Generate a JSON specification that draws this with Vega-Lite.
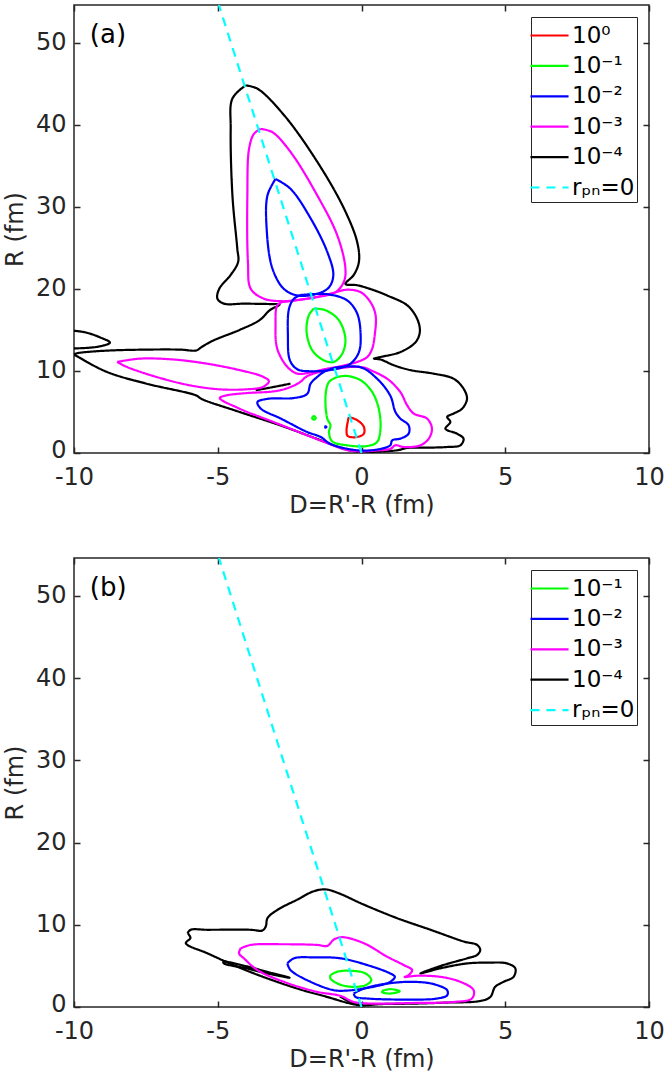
{
  "$schema": "https://vega.github.io/schema/vega-lite/v6.json",
  "padding": {"left": 2, "top": 3, "right": 5, "bottom": 5},
  "config": {
    "font": "DejaVu Sans",
    "view": {"stroke": "#262626", "strokeWidth": 1.5},
    "concat": {"spacing": 38},
    "axis": {"domain": false, "grid": false, "labelFlush": false, "tickColor": "#262626", "tickSize": -6, "tickWidth": 1.5, "labelColor": "#262626", "labelFont": "DejaVu Sans", "labelFontSize": 24, "titleFont": "DejaVu Sans", "titleFontSize": 24, "titleColor": "#262626", "titleFontWeight": "normal", "labelExpr": "replace(datum.label, '−', '-')"},
    "legend": {"orient": "top-right", "offset": 12, "padding": 2, "strokeColor": "#262626", "fillColor": "#ffffff", "labelFontSize": 23, "labelFont": "DejaVu Sans", "labelColor": "#000000", "symbolType": "M-1.27,0H1.27", "symbolSize": 900, "symbolStrokeWidth": 2.2, "rowPadding": 1.4, "labelOffset": 6, "cornerRadius": 0}
  },
  "datasets": {
    "a": [
      {"lv":"10⁻⁴","id":"k1","i":0,"D":-4.03,"R":44.8},{"lv":"10⁻⁴","id":"k1","i":1,"D":-3.62,"R":44.4},{"lv":"10⁻⁴","id":"k1","i":2,"D":-2.7,"R":41.2},{"lv":"10⁻⁴","id":"k1","i":3,"D":-1.54,"R":35.5},{"lv":"10⁻⁴","id":"k1","i":4,"D":-0.61,"R":29.8},{"lv":"10⁻⁴","id":"k1","i":5,"D":-0.15,"R":25.7},{"lv":"10⁻⁴","id":"k1","i":6,"D":-0.09,"R":23.3},{"lv":"10⁻⁴","id":"k1","i":7,"D":-0.27,"R":21.7},{"lv":"10⁻⁴","id":"k1","i":8,"D":-0.56,"R":20.6},{"lv":"10⁻⁴","id":"k1","i":9,"D":-0.15,"R":20.45},{"lv":"10⁻⁴","id":"k1","i":10,"D":0.54,"R":19.7},{"lv":"10⁻⁴","id":"k1","i":11,"D":0.89,"R":19.2},{"lv":"10⁻⁴","id":"k1","i":12,"D":1.59,"R":18.0},{"lv":"10⁻⁴","id":"k1","i":13,"D":1.93,"R":16.4},{"lv":"10⁻⁴","id":"k1","i":14,"D":2.03,"R":14.8},{"lv":"10⁻⁴","id":"k1","i":15,"D":1.88,"R":13.5},{"lv":"10⁻⁴","id":"k1","i":16,"D":1.35,"R":12.3},{"lv":"10⁻⁴","id":"k1","i":17,"D":0.66,"R":11.7},{"lv":"10⁻⁴","id":"k1","i":18,"D":0.43,"R":11.5},{"lv":"10⁻⁴","id":"k1","i":19,"D":0.66,"R":11.4},{"lv":"10⁻⁴","id":"k1","i":20,"D":1.12,"R":10.7},{"lv":"10⁻⁴","id":"k1","i":21,"D":1.7,"R":10.1},{"lv":"10⁻⁴","id":"k1","i":22,"D":2.51,"R":9.67},{"lv":"10⁻⁴","id":"k1","i":23,"D":3.2,"R":9.06},{"lv":"10⁻⁴","id":"k1","i":24,"D":3.55,"R":7.84},{"lv":"10⁻⁴","id":"k1","i":25,"D":3.67,"R":6.6},{"lv":"10⁻⁴","id":"k1","i":26,"D":3.5,"R":5.4},{"lv":"10⁻⁴","id":"k1","i":27,"D":3.2,"R":4.8},{"lv":"10⁻⁴","id":"k1","i":28,"D":2.98,"R":4.4},{"lv":"10⁻⁴","id":"k1","i":29,"D":3.09,"R":3.78},{"lv":"10⁻⁴","id":"k1","i":30,"D":2.92,"R":2.96},{"lv":"10⁻⁴","id":"k1","i":31,"D":3.32,"R":2.36},{"lv":"10⁻⁴","id":"k1","i":32,"D":3.55,"R":1.75},{"lv":"10⁻⁴","id":"k1","i":33,"D":3.44,"R":0.94},{"lv":"10⁻⁴","id":"k1","i":34,"D":2.98,"R":0.73},{"lv":"10⁻⁴","id":"k1","i":35,"D":2.28,"R":0.65},{"lv":"10⁻⁴","id":"k1","i":36,"D":1.59,"R":0.61},{"lv":"10⁻⁴","id":"k1","i":37,"D":1.24,"R":0.33},{"lv":"10⁻⁴","id":"k1","i":38,"D":0.48,"R":0.15},{"lv":"10⁻⁴","id":"k1","i":39,"D":-0.03,"R":0.1},{"lv":"10⁻⁴","id":"k1","i":40,"D":-0.6,"R":0.5},{"lv":"10⁻⁴","id":"k1","i":41,"D":-1.57,"R":1.75},{"lv":"10⁻⁴","id":"k1","i":42,"D":-2.85,"R":3.4},{"lv":"10⁻⁴","id":"k1","i":43,"D":-4.24,"R":5.0},{"lv":"10⁻⁴","id":"k1","i":44,"D":-5.57,"R":6.6},{"lv":"10⁻⁴","id":"k1","i":45,"D":-5.74,"R":7.0},{"lv":"10⁻⁴","id":"k1","i":46,"D":-7.48,"R":8.45},{"lv":"10⁻⁴","id":"k1","i":47,"D":-8.87,"R":9.9},{"lv":"10⁻⁴","id":"k1","i":48,"D":-9.9,"R":11.8},{"lv":"10⁻⁴","id":"k1","i":49,"D":-10,"R":12.0},{"lv":"10⁻⁴","id":"k1","i":50,"D":-9.9,"R":12.15},{"lv":"10⁻⁴","id":"k1","i":51,"D":-9.0,"R":12.45},{"lv":"10⁻⁴","id":"k1","i":52,"D":-7.5,"R":12.6},{"lv":"10⁻⁴","id":"k1","i":53,"D":-6.3,"R":12.6},{"lv":"10⁻⁴","id":"k1","i":54,"D":-5.74,"R":12.5},{"lv":"10⁻⁴","id":"k1","i":55,"D":-5.57,"R":12.9},{"lv":"10⁻⁴","id":"k1","i":56,"D":-5.16,"R":13.7},{"lv":"10⁻⁴","id":"k1","i":57,"D":-4.24,"R":15.0},{"lv":"10⁻⁴","id":"k1","i":58,"D":-3.54,"R":16.2},{"lv":"10⁻⁴","id":"k1","i":59,"D":-3.19,"R":17.4},{"lv":"10⁻⁴","id":"k1","i":60,"D":-2.85,"R":18.1},{"lv":"10⁻⁴","id":"k1","i":61,"D":-3.16,"R":18.15},{"lv":"10⁻⁴","id":"k1","i":62,"D":-4.09,"R":18.2},{"lv":"10⁻⁴","id":"k1","i":63,"D":-4.78,"R":18.2},{"lv":"10⁻⁴","id":"k1","i":64,"D":-5.01,"R":18.8},{"lv":"10⁻⁴","id":"k1","i":65,"D":-4.95,"R":20.0},{"lv":"10⁻⁴","id":"k1","i":66,"D":-4.55,"R":21.7},{"lv":"10⁻⁴","id":"k1","i":67,"D":-4.29,"R":23.3},{"lv":"10⁻⁴","id":"k1","i":68,"D":-4.32,"R":24.9},{"lv":"10⁻⁴","id":"k1","i":69,"D":-4.49,"R":31.4},{"lv":"10⁻⁴","id":"k1","i":70,"D":-4.55,"R":39.5},{"lv":"10⁻⁴","id":"k1","i":71,"D":-4.49,"R":43.2},{"lv":"10⁻⁴","id":"k1","i":72,"D":-4.03,"R":44.8},
      {"lv":"10⁻⁴","id":"k2","i":0,"D":-10,"R":14.9},{"lv":"10⁻⁴","id":"k2","i":1,"D":-9.6,"R":14.7},{"lv":"10⁻⁴","id":"k2","i":2,"D":-9.1,"R":14.1},{"lv":"10⁻⁴","id":"k2","i":3,"D":-8.75,"R":13.45},{"lv":"10⁻⁴","id":"k2","i":4,"D":-9.1,"R":13.0},{"lv":"10⁻⁴","id":"k2","i":5,"D":-9.6,"R":12.8},{"lv":"10⁻⁴","id":"k2","i":6,"D":-10,"R":12.75},
      {"lv":"10⁻⁴","id":"k3","i":0,"D":-3.68,"R":7.65},{"lv":"10⁻⁴","id":"k3","i":1,"D":-3.05,"R":8.05},{"lv":"10⁻⁴","id":"k3","i":2,"D":-2.47,"R":8.45},
      {"lv":"10⁻³","id":"m1","i":0,"D":-3.51,"R":39.5},{"lv":"10⁻³","id":"m1","i":1,"D":-3.1,"R":39.1},{"lv":"10⁻³","id":"m1","i":2,"D":-2.47,"R":36.7},{"lv":"10⁻³","id":"m1","i":3,"D":-1.54,"R":31.4},{"lv":"10⁻³","id":"m1","i":4,"D":-0.84,"R":26.5},{"lv":"10⁻³","id":"m1","i":5,"D":-0.56,"R":22.5},{"lv":"10⁻³","id":"m1","i":6,"D":-0.61,"R":20.9},{"lv":"10⁻³","id":"m1","i":7,"D":-0.9,"R":19.6},{"lv":"10⁻³","id":"m1","i":8,"D":-1.54,"R":19.0},{"lv":"10⁻³","id":"m1","i":9,"D":-2.35,"R":18.6},{"lv":"10⁻³","id":"m1","i":10,"D":-2.75,"R":18.5},{"lv":"10⁻³","id":"m1","i":11,"D":-3.39,"R":18.8},{"lv":"10⁻³","id":"m1","i":12,"D":-3.85,"R":20.0},{"lv":"10⁻³","id":"m1","i":13,"D":-3.95,"R":23.3},{"lv":"10⁻³","id":"m1","i":14,"D":-3.97,"R":31.4},{"lv":"10⁻³","id":"m1","i":15,"D":-3.91,"R":37.1},{"lv":"10⁻³","id":"m1","i":16,"D":-3.74,"R":38.9},{"lv":"10⁻³","id":"m1","i":17,"D":-3.51,"R":39.5},
      {"lv":"10⁻³","id":"m2","i":0,"D":-2.75,"R":18.4},{"lv":"10⁻³","id":"m2","i":1,"D":-2.3,"R":18.6},{"lv":"10⁻³","id":"m2","i":2,"D":-1.6,"R":19.0},{"lv":"10⁻³","id":"m2","i":3,"D":-1.0,"R":19.5},{"lv":"10⁻³","id":"m2","i":4,"D":-0.5,"R":19.9},{"lv":"10⁻³","id":"m2","i":5,"D":-0.03,"R":19.6},{"lv":"10⁻³","id":"m2","i":6,"D":0.31,"R":18.4},{"lv":"10⁻³","id":"m2","i":7,"D":0.49,"R":16.8},{"lv":"10⁻³","id":"m2","i":8,"D":0.46,"R":14.35},{"lv":"10⁻³","id":"m2","i":9,"D":0.37,"R":12.7},{"lv":"10⁻³","id":"m2","i":10,"D":0.2,"R":11.7},{"lv":"10⁻³","id":"m2","i":11,"D":-0.15,"R":11.1},{"lv":"10⁻³","id":"m2","i":12,"D":-0.7,"R":10.6},{"lv":"10⁻³","id":"m2","i":13,"D":-1.3,"R":10.2},{"lv":"10⁻³","id":"m2","i":14,"D":-1.8,"R":9.8},{"lv":"10⁻³","id":"m2","i":15,"D":-2.23,"R":9.67},{"lv":"10⁻³","id":"m2","i":16,"D":-2.58,"R":10.5},{"lv":"10⁻³","id":"m2","i":17,"D":-2.93,"R":12.7},{"lv":"10⁻³","id":"m2","i":18,"D":-2.99,"R":15.6},{"lv":"10⁻³","id":"m2","i":19,"D":-2.93,"R":18.0},{"lv":"10⁻³","id":"m2","i":20,"D":-2.75,"R":18.4},
      {"lv":"10⁻³","id":"m3","i":0,"D":0.31,"R":10.1},{"lv":"10⁻³","id":"m3","i":1,"D":0.89,"R":9.06},{"lv":"10⁻³","id":"m3","i":2,"D":1.35,"R":7.44},{"lv":"10⁻³","id":"m3","i":3,"D":1.59,"R":5.8},{"lv":"10⁻³","id":"m3","i":4,"D":1.82,"R":4.8},{"lv":"10⁻³","id":"m3","i":5,"D":2.28,"R":4.2},{"lv":"10⁻³","id":"m3","i":6,"D":2.45,"R":3.0},{"lv":"10⁻³","id":"m3","i":7,"D":2.34,"R":1.75},{"lv":"10⁻³","id":"m3","i":8,"D":2.05,"R":0.94},{"lv":"10⁻³","id":"m3","i":9,"D":1.47,"R":0.73},{"lv":"10⁻³","id":"m3","i":10,"D":1.18,"R":0.94},{"lv":"10⁻³","id":"m3","i":11,"D":1.0,"R":0.5},{"lv":"10⁻³","id":"m3","i":12,"D":0.48,"R":0.3},{"lv":"10⁻³","id":"m3","i":13,"D":0.0,"R":0.2},{"lv":"10⁻³","id":"m3","i":14,"D":-0.5,"R":0.35},{"lv":"10⁻³","id":"m3","i":15,"D":-1.11,"R":1.1},{"lv":"10⁻³","id":"m3","i":16,"D":-1.92,"R":2.2},{"lv":"10⁻³","id":"m3","i":17,"D":-3.08,"R":3.8},{"lv":"10⁻³","id":"m3","i":18,"D":-4.24,"R":5.4},{"lv":"10⁻³","id":"m3","i":19,"D":-4.93,"R":6.7},{"lv":"10⁻³","id":"m3","i":20,"D":-4.73,"R":7.0},{"lv":"10⁻³","id":"m3","i":21,"D":-4.0,"R":7.3},{"lv":"10⁻³","id":"m3","i":22,"D":-3.08,"R":7.5},{"lv":"10⁻³","id":"m3","i":23,"D":-2.62,"R":7.85},{"lv":"10⁻³","id":"m3","i":24,"D":-2.15,"R":8.6},{"lv":"10⁻³","id":"m3","i":25,"D":-1.92,"R":9.3},{"lv":"10⁻³","id":"m3","i":26,"D":-1.5,"R":9.85},{"lv":"10⁻³","id":"m3","i":27,"D":-0.9,"R":10.25},{"lv":"10⁻³","id":"m3","i":28,"D":-0.3,"R":10.5},{"lv":"10⁻³","id":"m3","i":29,"D":0.1,"R":10.4},{"lv":"10⁻³","id":"m3","i":30,"D":0.31,"R":10.1},
      {"lv":"10⁻³","id":"m4","i":0,"D":-8.5,"R":11.1},{"lv":"10⁻³","id":"m4","i":1,"D":-7.71,"R":11.5},{"lv":"10⁻³","id":"m4","i":2,"D":-6.55,"R":11.4},{"lv":"10⁻³","id":"m4","i":3,"D":-5.4,"R":10.9},{"lv":"10⁻³","id":"m4","i":4,"D":-4.24,"R":10.1},{"lv":"10⁻³","id":"m4","i":5,"D":-3.43,"R":9.3},{"lv":"10⁻³","id":"m4","i":6,"D":-3.22,"R":8.74},{"lv":"10⁻³","id":"m4","i":7,"D":-3.43,"R":8.05},{"lv":"10⁻³","id":"m4","i":8,"D":-4.0,"R":7.76},{"lv":"10⁻³","id":"m4","i":9,"D":-4.93,"R":7.76},{"lv":"10⁻³","id":"m4","i":10,"D":-5.97,"R":8.25},{"lv":"10⁻³","id":"m4","i":11,"D":-7.13,"R":9.27},{"lv":"10⁻³","id":"m4","i":12,"D":-8.17,"R":10.5},{"lv":"10⁻³","id":"m4","i":13,"D":-8.5,"R":11.1},
      {"lv":"10⁻²","id":"b1","i":0,"D":-2.12,"R":19.25},{"lv":"10⁻²","id":"b1","i":1,"D":-1.19,"R":19.35},{"lv":"10⁻²","id":"b1","i":2,"D":-0.5,"R":18.6},{"lv":"10⁻²","id":"b1","i":3,"D":-0.15,"R":17.0},{"lv":"10⁻²","id":"b1","i":4,"D":-0.03,"R":14.35},{"lv":"10⁻²","id":"b1","i":5,"D":-0.09,"R":12.3},{"lv":"10⁻²","id":"b1","i":6,"D":-0.38,"R":10.9},{"lv":"10⁻²","id":"b1","i":7,"D":-0.96,"R":10.2},{"lv":"10⁻²","id":"b1","i":8,"D":-1.77,"R":9.96},{"lv":"10⁻²","id":"b1","i":9,"D":-2.23,"R":10.2},{"lv":"10⁻²","id":"b1","i":10,"D":-2.49,"R":11.3},{"lv":"10⁻²","id":"b1","i":11,"D":-2.56,"R":14.35},{"lv":"10⁻²","id":"b1","i":12,"D":-2.52,"R":17.6},{"lv":"10⁻²","id":"b1","i":13,"D":-2.35,"R":18.8},{"lv":"10⁻²","id":"b1","i":14,"D":-2.12,"R":19.25},
      {"lv":"10⁻²","id":"b2","i":0,"D":-0.92,"R":10.4},{"lv":"10⁻²","id":"b2","i":1,"D":-0.03,"R":10.45},{"lv":"10⁻²","id":"b2","i":2,"D":0.54,"R":9.06},{"lv":"10⁻²","id":"b2","i":3,"D":1.0,"R":7.0},{"lv":"10⁻²","id":"b2","i":4,"D":1.18,"R":5.0},{"lv":"10⁻²","id":"b2","i":5,"D":1.35,"R":4.2},{"lv":"10⁻²","id":"b2","i":6,"D":1.64,"R":3.37},{"lv":"10⁻²","id":"b2","i":7,"D":1.64,"R":2.36},{"lv":"10⁻²","id":"b2","i":8,"D":1.35,"R":1.75},{"lv":"10⁻²","id":"b2","i":9,"D":1.07,"R":1.55},{"lv":"10⁻²","id":"b2","i":10,"D":1.0,"R":0.94},{"lv":"10⁻²","id":"b2","i":11,"D":0.72,"R":0.55},{"lv":"10⁻²","id":"b2","i":12,"D":0.2,"R":0.3},{"lv":"10⁻²","id":"b2","i":13,"D":-0.3,"R":0.4},{"lv":"10⁻²","id":"b2","i":14,"D":-1.08,"R":1.1},{"lv":"10⁻²","id":"b2","i":15,"D":-1.42,"R":1.95},{"lv":"10⁻²","id":"b2","i":16,"D":-1.89,"R":2.56},{"lv":"10⁻²","id":"b2","i":17,"D":-2.81,"R":4.2},{"lv":"10⁻²","id":"b2","i":18,"D":-3.5,"R":5.4},{"lv":"10⁻²","id":"b2","i":19,"D":-3.62,"R":6.2},{"lv":"10⁻²","id":"b2","i":20,"D":-3.27,"R":6.6},{"lv":"10⁻²","id":"b2","i":21,"D":-2.35,"R":6.7},{"lv":"10⁻²","id":"b2","i":22,"D":-1.89,"R":7.2},{"lv":"10⁻²","id":"b2","i":23,"D":-1.77,"R":8.45},{"lv":"10⁻²","id":"b2","i":24,"D":-1.54,"R":9.27},{"lv":"10⁻²","id":"b2","i":25,"D":-1.3,"R":9.9},{"lv":"10⁻²","id":"b2","i":26,"D":-0.92,"R":10.4},
      {"lv":"10⁻²","id":"b3","i":0,"D":-2.99,"R":33.4},{"lv":"10⁻²","id":"b3","i":1,"D":-2.47,"R":32.2},{"lv":"10⁻²","id":"b3","i":2,"D":-1.77,"R":28.6},{"lv":"10⁻²","id":"b3","i":3,"D":-1.19,"R":24.5},{"lv":"10⁻²","id":"b3","i":4,"D":-0.98,"R":21.7},{"lv":"10⁻²","id":"b3","i":5,"D":-1.13,"R":20.2},{"lv":"10⁻²","id":"b3","i":6,"D":-1.54,"R":19.4},{"lv":"10⁻²","id":"b3","i":7,"D":-2.23,"R":19.2},{"lv":"10⁻²","id":"b3","i":8,"D":-2.7,"R":20.0},{"lv":"10⁻²","id":"b3","i":9,"D":-3.1,"R":22.5},{"lv":"10⁻²","id":"b3","i":10,"D":-3.3,"R":27.4},{"lv":"10⁻²","id":"b3","i":11,"D":-3.27,"R":31.4},{"lv":"10⁻²","id":"b3","i":12,"D":-2.99,"R":33.4},
      {"lv":"10⁻²","id":"b4","i":0,"D":-1.28,"R":3.17},{"lv":"10⁻²","id":"b4","i":1,"D":-1.25,"R":3.25},{"lv":"10⁻²","id":"b4","i":2,"D":-1.22,"R":3.17},{"lv":"10⁻²","id":"b4","i":3,"D":-1.25,"R":3.09},{"lv":"10⁻²","id":"b4","i":4,"D":-1.28,"R":3.17},
      {"lv":"10⁻¹","id":"g1","i":0,"D":-0.84,"R":9.27},{"lv":"10⁻¹","id":"g1","i":1,"D":-0.5,"R":9.39},{"lv":"10⁻¹","id":"g1","i":2,"D":-0.03,"R":8.87},{"lv":"10⁻¹","id":"g1","i":3,"D":0.37,"R":7.44},{"lv":"10⁻¹","id":"g1","i":4,"D":0.6,"R":5.4},{"lv":"10⁻¹","id":"g1","i":5,"D":0.66,"R":2.96},{"lv":"10⁻¹","id":"g1","i":6,"D":0.54,"R":1.34},{"lv":"10⁻¹","id":"g1","i":7,"D":0.2,"R":0.85},{"lv":"10⁻¹","id":"g1","i":8,"D":-0.5,"R":0.94},{"lv":"10⁻¹","id":"g1","i":9,"D":-1.02,"R":1.42},{"lv":"10⁻¹","id":"g1","i":10,"D":-1.13,"R":2.56},{"lv":"10⁻¹","id":"g1","i":11,"D":-1.08,"R":3.37},{"lv":"10⁻¹","id":"g1","i":12,"D":-1.19,"R":4.2},{"lv":"10⁻¹","id":"g1","i":13,"D":-1.25,"R":7.0},{"lv":"10⁻¹","id":"g1","i":14,"D":-1.13,"R":8.66},{"lv":"10⁻¹","id":"g1","i":15,"D":-0.84,"R":9.27},
      {"lv":"10⁻¹","id":"g2","i":0,"D":-1.66,"R":17.6},{"lv":"10⁻¹","id":"g2","i":1,"D":-1.25,"R":17.4},{"lv":"10⁻¹","id":"g2","i":2,"D":-0.79,"R":16.2},{"lv":"10⁻¹","id":"g2","i":3,"D":-0.56,"R":13.9},{"lv":"10⁻¹","id":"g2","i":4,"D":-0.67,"R":12.1},{"lv":"10⁻¹","id":"g2","i":5,"D":-0.96,"R":11.1},{"lv":"10⁻¹","id":"g2","i":6,"D":-1.31,"R":11.3},{"lv":"10⁻¹","id":"g2","i":7,"D":-1.71,"R":12.5},{"lv":"10⁻¹","id":"g2","i":8,"D":-1.91,"R":14.76},{"lv":"10⁻¹","id":"g2","i":9,"D":-1.83,"R":16.8},{"lv":"10⁻¹","id":"g2","i":10,"D":-1.66,"R":17.6},
      {"lv":"10⁻¹","id":"g3","i":0,"D":-1.73,"R":4.27},{"lv":"10⁻¹","id":"g3","i":1,"D":-1.66,"R":4.5},{"lv":"10⁻¹","id":"g3","i":2,"D":-1.59,"R":4.27},{"lv":"10⁻¹","id":"g3","i":3,"D":-1.66,"R":4.05},{"lv":"10⁻¹","id":"g3","i":4,"D":-1.73,"R":4.27},
      {"lv":"10⁰","id":"r1","i":0,"D":-0.44,"R":4.4},{"lv":"10⁰","id":"r1","i":1,"D":-0.15,"R":4.0},{"lv":"10⁰","id":"r1","i":2,"D":0.08,"R":3.2},{"lv":"10⁰","id":"r1","i":3,"D":0.08,"R":2.35},{"lv":"10⁰","id":"r1","i":4,"D":-0.15,"R":1.95},{"lv":"10⁰","id":"r1","i":5,"D":-0.48,"R":2.07},{"lv":"10⁰","id":"r1","i":6,"D":-0.52,"R":2.76},{"lv":"10⁰","id":"r1","i":7,"D":-0.48,"R":3.78},{"lv":"10⁰","id":"r1","i":8,"D":-0.44,"R":4.4},
      {"lv":"rₚₙ=0","id":"c1","i":0,"D":0,"R":0},{"lv":"rₚₙ=0","id":"c1","i":1,"D":-4.96,"R":54.6}
    ],
    "b": [
      {"lv":"10⁻⁴","id":"k1","i":0,"D":-6.05,"R":9.0},{"lv":"10⁻⁴","id":"k1","i":1,"D":-5.94,"R":9.39},{"lv":"10⁻⁴","id":"k1","i":2,"D":-5.36,"R":9.39},{"lv":"10⁻⁴","id":"k1","i":3,"D":-3.85,"R":9.39},{"lv":"10⁻⁴","id":"k1","i":4,"D":-3.45,"R":9.3},{"lv":"10⁻⁴","id":"k1","i":5,"D":-3.33,"R":9.79},{"lv":"10⁻⁴","id":"k1","i":6,"D":-3.27,"R":10.8},{"lv":"10⁻⁴","id":"k1","i":7,"D":-2.93,"R":11.8},{"lv":"10⁻⁴","id":"k1","i":8,"D":-2.23,"R":13.06},{"lv":"10⁻⁴","id":"k1","i":9,"D":-1.66,"R":14.08},{"lv":"10⁻⁴","id":"k1","i":10,"D":-1.25,"R":14.3},{"lv":"10⁻⁴","id":"k1","i":11,"D":-0.84,"R":13.9},{"lv":"10⁻⁴","id":"k1","i":12,"D":0.08,"R":12.45},{"lv":"10⁻⁴","id":"k1","i":13,"D":1.24,"R":10.8},{"lv":"10⁻⁴","id":"k1","i":14,"D":2.4,"R":9.39},{"lv":"10⁻⁴","id":"k1","i":15,"D":3.56,"R":7.96},{"lv":"10⁻⁴","id":"k1","i":16,"D":4.02,"R":7.55},{"lv":"10⁻⁴","id":"k1","i":17,"D":4.13,"R":6.94},{"lv":"10⁻⁴","id":"k1","i":18,"D":4.02,"R":6.33},{"lv":"10⁻⁴","id":"k1","i":19,"D":3.67,"R":5.92},{"lv":"10⁻⁴","id":"k1","i":20,"D":2.74,"R":4.98},{"lv":"10⁻⁴","id":"k1","i":21,"D":2.05,"R":4.08},{"lv":"10⁻⁴","id":"k1","i":22,"D":2.74,"R":4.7},{"lv":"10⁻⁴","id":"k1","i":23,"D":3.67,"R":5.3},{"lv":"10⁻⁴","id":"k1","i":24,"D":4.36,"R":5.39},{"lv":"10⁻⁴","id":"k1","i":25,"D":5.06,"R":5.3},{"lv":"10⁻⁴","id":"k1","i":26,"D":5.35,"R":4.7},{"lv":"10⁻⁴","id":"k1","i":27,"D":5.29,"R":3.67},{"lv":"10⁻⁴","id":"k1","i":28,"D":4.94,"R":3.06},{"lv":"10⁻⁴","id":"k1","i":29,"D":4.65,"R":2.45},{"lv":"10⁻⁴","id":"k1","i":30,"D":4.48,"R":1.22},{"lv":"10⁻⁴","id":"k1","i":31,"D":4.13,"R":0.73},{"lv":"10⁻⁴","id":"k1","i":32,"D":2.98,"R":0.54},{"lv":"10⁻⁴","id":"k1","i":33,"D":1.82,"R":0.41},{"lv":"10⁻⁴","id":"k1","i":34,"D":0.66,"R":0.35},{"lv":"10⁻⁴","id":"k1","i":35,"D":0,"R":0.2},{"lv":"10⁻⁴","id":"k1","i":36,"D":-0.38,"R":0.41},{"lv":"10⁻⁴","id":"k1","i":37,"D":-1.19,"R":1.22},{"lv":"10⁻⁴","id":"k1","i":38,"D":-2.12,"R":2.12},{"lv":"10⁻⁴","id":"k1","i":39,"D":-3.27,"R":3.47},{"lv":"10⁻⁴","id":"k1","i":40,"D":-4.32,"R":4.9},{"lv":"10⁻⁴","id":"k1","i":41,"D":-5.36,"R":6.53},{"lv":"10⁻⁴","id":"k1","i":42,"D":-6.11,"R":7.76},{"lv":"10⁻⁴","id":"k1","i":43,"D":-5.95,"R":8.4},{"lv":"10⁻⁴","id":"k1","i":44,"D":-6.05,"R":9.0},
      {"lv":"10⁻⁴","id":"k2","i":0,"D":-4.8,"R":5.6},{"lv":"10⁻⁴","id":"k2","i":1,"D":-4.0,"R":4.95},{"lv":"10⁻⁴","id":"k2","i":2,"D":-3.3,"R":4.3},{"lv":"10⁻⁴","id":"k2","i":3,"D":-2.5,"R":3.55},{"lv":"10⁻⁴","id":"k2","i":4,"D":-3.3,"R":4.1},{"lv":"10⁻⁴","id":"k2","i":5,"D":-4.0,"R":4.7},{"lv":"10⁻⁴","id":"k2","i":6,"D":-4.8,"R":5.35},{"lv":"10⁻⁴","id":"k2","i":7,"D":-4.8,"R":5.6},
      {"lv":"10⁻⁴","id":"k3","i":0,"D":-0.75,"R":1.3},{"lv":"10⁻⁴","id":"k3","i":1,"D":-0.4,"R":0.6},{"lv":"10⁻⁴","id":"k3","i":2,"D":-0.1,"R":0.3},
      {"lv":"10⁻³","id":"m1","i":0,"D":-4.2,"R":7.14},{"lv":"10⁻³","id":"m1","i":1,"D":-3.85,"R":7.55},{"lv":"10⁻³","id":"m1","i":2,"D":-2.7,"R":7.63},{"lv":"10⁻³","id":"m1","i":3,"D":-1.54,"R":7.55},{"lv":"10⁻³","id":"m1","i":4,"D":-1.19,"R":7.43},{"lv":"10⁻³","id":"m1","i":5,"D":-0.96,"R":8.2},{"lv":"10⁻³","id":"m1","i":6,"D":-0.67,"R":8.49},{"lv":"10⁻³","id":"m1","i":7,"D":0.08,"R":7.76},{"lv":"10⁻³","id":"m1","i":8,"D":0.89,"R":6.12},{"lv":"10⁻³","id":"m1","i":9,"D":1.47,"R":5.1},{"lv":"10⁻³","id":"m1","i":10,"D":1.76,"R":4.49},{"lv":"10⁻³","id":"m1","i":11,"D":1.64,"R":3.88},{"lv":"10⁻³","id":"m1","i":12,"D":1.5,"R":3.65},{"lv":"10⁻³","id":"m1","i":13,"D":1.93,"R":3.8},{"lv":"10⁻³","id":"m1","i":14,"D":2.74,"R":3.67},{"lv":"10⁻³","id":"m1","i":15,"D":3.44,"R":3.06},{"lv":"10⁻³","id":"m1","i":16,"D":3.9,"R":2.04},{"lv":"10⁻³","id":"m1","i":17,"D":3.84,"R":1.03},{"lv":"10⁻³","id":"m1","i":18,"D":3.2,"R":0.61},{"lv":"10⁻³","id":"m1","i":19,"D":1.82,"R":0.49},{"lv":"10⁻³","id":"m1","i":20,"D":0.43,"R":0.41},{"lv":"10⁻³","id":"m1","i":21,"D":-0.27,"R":0.61},{"lv":"10⁻³","id":"m1","i":22,"D":-0.73,"R":1.35},{"lv":"10⁻³","id":"m1","i":23,"D":-1.54,"R":1.84},{"lv":"10⁻³","id":"m1","i":24,"D":-2.7,"R":3.06},{"lv":"10⁻³","id":"m1","i":25,"D":-3.62,"R":4.49},{"lv":"10⁻³","id":"m1","i":26,"D":-4.09,"R":5.92},{"lv":"10⁻³","id":"m1","i":27,"D":-4.26,"R":6.53},{"lv":"10⁻³","id":"m1","i":28,"D":-4.2,"R":7.14},
      {"lv":"10⁻²","id":"b1","i":0,"D":-2.58,"R":5.3},{"lv":"10⁻²","id":"b1","i":1,"D":-2.35,"R":5.92},{"lv":"10⁻²","id":"b1","i":2,"D":-1.66,"R":6.04},{"lv":"10⁻²","id":"b1","i":3,"D":-0.73,"R":5.92},{"lv":"10⁻²","id":"b1","i":4,"D":0.2,"R":5.1},{"lv":"10⁻²","id":"b1","i":5,"D":1.0,"R":4.08},{"lv":"10⁻²","id":"b1","i":6,"D":1.16,"R":3.67},{"lv":"10⁻²","id":"b1","i":7,"D":1.0,"R":3.06},{"lv":"10⁻²","id":"b1","i":8,"D":0.66,"R":2.65},{"lv":"10⁻²","id":"b1","i":9,"D":0.0,"R":2.2},{"lv":"10⁻²","id":"b1","i":10,"D":-0.5,"R":2.0},{"lv":"10⁻²","id":"b1","i":11,"D":-0.96,"R":2.04},{"lv":"10⁻²","id":"b1","i":12,"D":-1.77,"R":3.06},{"lv":"10⁻²","id":"b1","i":13,"D":-2.47,"R":4.49},{"lv":"10⁻²","id":"b1","i":14,"D":-2.58,"R":5.3},
      {"lv":"10⁻²","id":"b2","i":0,"D":-0.27,"R":1.64},{"lv":"10⁻²","id":"b2","i":1,"D":0.08,"R":2.24},{"lv":"10⁻²","id":"b2","i":2,"D":0.89,"R":2.85},{"lv":"10⁻²","id":"b2","i":3,"D":1.82,"R":3.06},{"lv":"10⁻²","id":"b2","i":4,"D":2.51,"R":2.78},{"lv":"10⁻²","id":"b2","i":5,"D":2.98,"R":2.04},{"lv":"10⁻²","id":"b2","i":6,"D":2.98,"R":1.43},{"lv":"10⁻²","id":"b2","i":7,"D":2.63,"R":1.03},{"lv":"10⁻²","id":"b2","i":8,"D":1.59,"R":0.9},{"lv":"10⁻²","id":"b2","i":9,"D":0.2,"R":1.03},{"lv":"10⁻²","id":"b2","i":10,"D":-0.21,"R":1.22},{"lv":"10⁻²","id":"b2","i":11,"D":-0.27,"R":1.64},
      {"lv":"10⁻¹","id":"g1","i":0,"D":-1.08,"R":3.88},{"lv":"10⁻¹","id":"g1","i":1,"D":-0.84,"R":4.29},{"lv":"10⁻¹","id":"g1","i":2,"D":-0.38,"R":4.41},{"lv":"10⁻¹","id":"g1","i":3,"D":0.14,"R":4.08},{"lv":"10⁻¹","id":"g1","i":4,"D":0.34,"R":3.27},{"lv":"10⁻¹","id":"g1","i":5,"D":0.14,"R":2.65},{"lv":"10⁻¹","id":"g1","i":6,"D":-0.32,"R":2.45},{"lv":"10⁻¹","id":"g1","i":7,"D":-0.79,"R":2.78},{"lv":"10⁻¹","id":"g1","i":8,"D":-1.08,"R":3.47},{"lv":"10⁻¹","id":"g1","i":9,"D":-1.08,"R":3.88},
      {"lv":"10⁻¹","id":"g2","i":0,"D":0.72,"R":1.96},{"lv":"10⁻¹","id":"g2","i":1,"D":1.0,"R":2.17},{"lv":"10⁻¹","id":"g2","i":2,"D":1.33,"R":1.92},{"lv":"10⁻¹","id":"g2","i":3,"D":1.0,"R":1.64},{"lv":"10⁻¹","id":"g2","i":4,"D":0.72,"R":1.8},{"lv":"10⁻¹","id":"g2","i":5,"D":0.72,"R":1.96},
      {"lv":"rₚₙ=0","id":"c1","i":0,"D":0,"R":0},{"lv":"rₚₙ=0","id":"c1","i":1,"D":-4.96,"R":54.6}
    ],
    "la": [{"t":"(a)","D":-9.45,"R":50.9}],
    "lb": [{"t":"(b)","D":-9.45,"R":50.9}]
  },
  "vconcat": [
    {
      "width": 575, "height": 448,
      "layer": [
        {
          "data": {"name": "a"},
          "mark": {"type": "line", "strokeWidth": 2.2, "clip": true, "interpolate": "catmull-rom"},
          "encoding": {
            "x": {"field": "D", "type": "quantitative", "scale": {"domain": [-10, 10], "nice": false, "zero": false}, "axis": {"orient": "bottom", "title": "D=R'-R (fm)", "values": [-10, -5, 0, 5, 10], "labelPadding": 18, "titlePadding": 4}},
            "y": {"field": "R", "type": "quantitative", "scale": {"domain": [0, 54.6], "nice": false}, "axis": {"orient": "left", "title": "R (fm)", "values": [0, 10, 20, 30, 40, 50], "labelPadding": 14, "titlePadding": 8, "labelOffset": {"condition": {"test": "datum.value === 0", "value": -3}, "value": 0}}},
            "color": {"field": "lv", "type": "nominal", "title": null, "scale": {"domain": ["10⁰", "10⁻¹", "10⁻²", "10⁻³", "10⁻⁴", "rₚₙ=0"], "range": ["#ff0000", "#00ff00", "#0000ff", "#ff00ff", "#000000", "#00ffff"]}},
            "strokeDash": {"field": "lv", "type": "nominal", "title": null, "scale": {"domain": ["10⁰", "10⁻¹", "10⁻²", "10⁻³", "10⁻⁴", "rₚₙ=0"], "range": [[1, 0], [1, 0], [1, 0], [1, 0], [1, 0], [9, 7]]}},
            "detail": {"field": "id"},
            "order": {"field": "i", "type": "quantitative"}
          }
        },
        {
          "data": {"name": "la"},
          "mark": {"type": "text", "align": "left", "baseline": "middle", "fontSize": 26, "font": "DejaVu Sans", "color": "#000000"},
          "encoding": {
            "x": {"field": "D", "type": "quantitative", "scale": {"domain": [-10, 10], "nice": false, "zero": false}, "axis": {"orient": "top", "labels": false, "title": null, "values": [-10, -5, 0, 5, 10], "minExtent": 0}},
            "y": {"field": "R", "type": "quantitative", "scale": {"domain": [0, 54.6], "nice": false}, "axis": {"orient": "right", "labels": false, "title": null, "values": [0, 10, 20, 30, 40, 50], "minExtent": 0}},
            "text": {"field": "t"}
          }
        }
      ],
      "resolve": {"axis": {"x": "independent", "y": "independent"}}
    },
    {
      "width": 575, "height": 449,
      "layer": [
        {
          "data": {"name": "b"},
          "mark": {"type": "line", "strokeWidth": 2.2, "clip": true, "interpolate": "catmull-rom"},
          "encoding": {
            "x": {"field": "D", "type": "quantitative", "scale": {"domain": [-10, 10], "nice": false, "zero": false}, "axis": {"orient": "bottom", "title": "D=R'-R (fm)", "values": [-10, -5, 0, 5, 10], "labelPadding": 18, "titlePadding": 4}},
            "y": {"field": "R", "type": "quantitative", "scale": {"domain": [0, 54.6], "nice": false}, "axis": {"orient": "left", "title": "R (fm)", "values": [0, 10, 20, 30, 40, 50], "labelPadding": 14, "titlePadding": 8, "labelOffset": {"condition": {"test": "datum.value === 0", "value": -3}, "value": 0}}},
            "color": {"field": "lv", "type": "nominal", "title": null, "scale": {"domain": ["10⁻¹", "10⁻²", "10⁻³", "10⁻⁴", "rₚₙ=0"], "range": ["#00ff00", "#0000ff", "#ff00ff", "#000000", "#00ffff"]}},
            "strokeDash": {"field": "lv", "type": "nominal", "title": null, "scale": {"domain": ["10⁻¹", "10⁻²", "10⁻³", "10⁻⁴", "rₚₙ=0"], "range": [[1, 0], [1, 0], [1, 0], [1, 0], [9, 7]]}},
            "detail": {"field": "id"},
            "order": {"field": "i", "type": "quantitative"}
          }
        },
        {
          "data": {"name": "lb"},
          "mark": {"type": "text", "align": "left", "baseline": "middle", "fontSize": 26, "font": "DejaVu Sans", "color": "#000000"},
          "encoding": {
            "x": {"field": "D", "type": "quantitative", "scale": {"domain": [-10, 10], "nice": false, "zero": false}, "axis": {"orient": "top", "labels": false, "title": null, "values": [-10, -5, 0, 5, 10], "minExtent": 0}},
            "y": {"field": "R", "type": "quantitative", "scale": {"domain": [0, 54.6], "nice": false}, "axis": {"orient": "right", "labels": false, "title": null, "values": [0, 10, 20, 30, 40, 50], "minExtent": 0}},
            "text": {"field": "t"}
          }
        }
      ],
      "resolve": {"axis": {"x": "independent", "y": "independent"}}
    }
  ],
  "resolve": {"scale": {"color": "independent", "strokeDash": "independent"}, "legend": {"color": "independent", "strokeDash": "independent"}}
}
